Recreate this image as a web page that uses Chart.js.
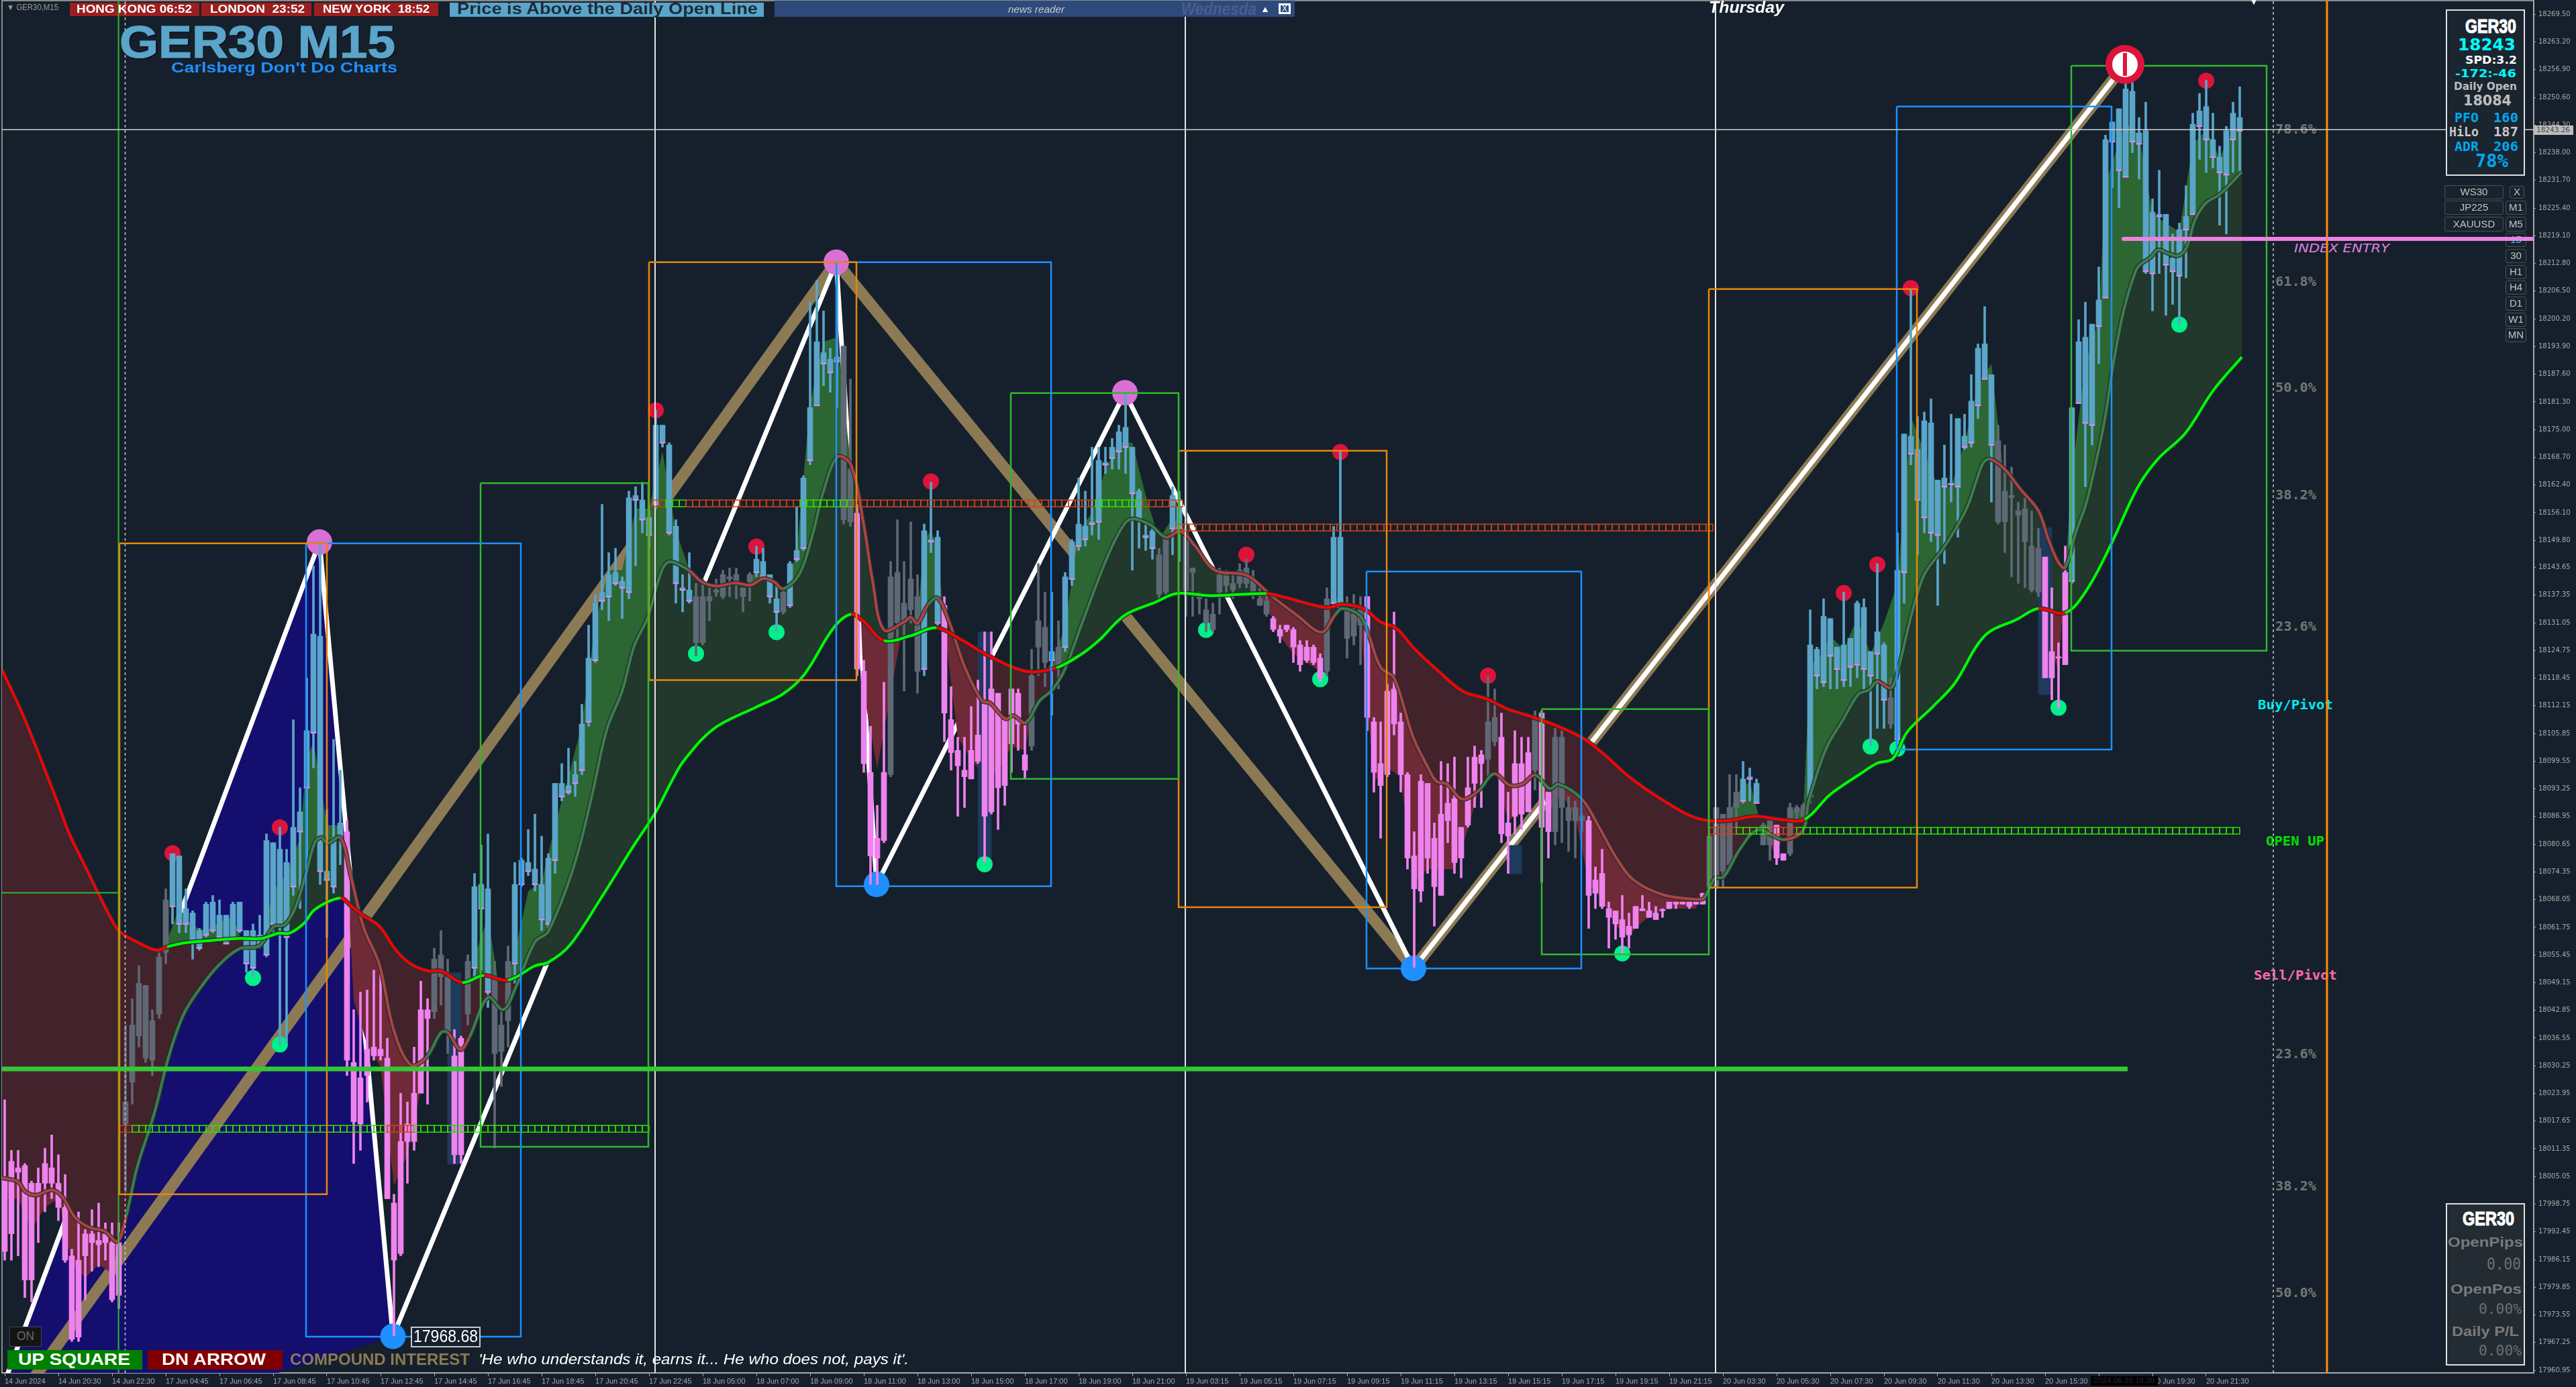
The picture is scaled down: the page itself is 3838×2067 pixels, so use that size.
<!DOCTYPE html>
<html lang="en">
<head>
<meta charset="UTF-8">
<title>GER30 M15</title>
<style>
  html, body { margin: 0; padding: 0; background: #15202c; width: 3838px; height: 2067px; overflow: hidden; }
  #wrap { position: absolute; left: 0; top: 0; width: 3838px; height: 2067px; z-index: 1; }
  .t { position: absolute; white-space: pre; transform-origin: left center; font-family: 'Liberation Sans', sans-serif; }
  .b { position: absolute; box-sizing: border-box; }
  .btn { position: absolute; box-sizing: border-box; border: 1.5px solid #4a5058; border-radius: 3px; background: #18232e;
         color: #c4c4c4; font: 15px 'Liberation Sans', sans-serif; text-align: center; }
</style>
<script src="https://cdn.jsdelivr.net/npm/chart.js"></script>
</head>
<body>
<div id="wrap"><canvas id="chart" width="3838" height="2067"></canvas></div>
<script>
// price scale of the terminal
const priceTicks = [18269.50,18263.20,18256.90,18250.60,18244.30,18238.00,18231.70,18225.40,18219.10,18212.80,
  18206.50,18200.20,18193.90,18187.60,18181.30,18175.00,18168.70,18162.40,18156.10,18149.80,
  18143.65,18137.35,18131.05,18124.75,18118.45,18112.15,18105.85,18099.55,18093.25,18086.95,
  18080.65,18074.35,18068.05,18061.75,18055.45,18049.15,18042.85,18036.55,18030.25,18023.95,
  18017.65,18011.35,18005.05,17998.75,17992.45,17986.15,17979.85,17973.55,17967.25,17960.95];
const timeLabels = ['14 Jun 2024','14 Jun 20:30','14 Jun 22:30','17 Jun 04:45','17 Jun 06:45','17 Jun 08:45','17 Jun 10:45',
  '17 Jun 12:45','17 Jun 14:45','17 Jun 16:45','17 Jun 18:45','17 Jun 20:45','17 Jun 22:45','18 Jun 05:00','18 Jun 07:00',
  '18 Jun 09:00','18 Jun 11:00','18 Jun 13:00','18 Jun 15:00','18 Jun 17:00','18 Jun 19:00','18 Jun 21:00','19 Jun 03:15',
  '19 Jun 05:15','19 Jun 07:15','19 Jun 09:15','19 Jun 11:15','19 Jun 13:15','19 Jun 15:15','19 Jun 17:15','19 Jun 19:15',
  '19 Jun 21:15','20 Jun 03:30','20 Jun 05:30','20 Jun 07:30','20 Jun 09:30','20 Jun 11:30','20 Jun 13:30','20 Jun 15:30',
  '20 Jun 17:30','20 Jun 19:30','20 Jun 21:30'];
const ticksPerLabel = 8;
const priceMin = 17960.35, priceMax = 18272.6, barMin = -0.4, barMax = 376.8;

// candles, one row per ten bars
const opens = [
18005,18008.5,18007,18007.5,18003.5,18003.5,18008,18007,18003.5,17998,
17987,17986,17992,17992,17990.5,17992,17990,17990,18017,18026.5,
18037,18032,18031.5,18042,18056,18066.5,18062.5,18062.5,18058.5,18057,
18060,18061,18059.5,18058,18059.5,18061,18053.5,18052.5,18057.5,18055.5,
18062.5,18062.5,18059.5,18071,18083.5,18093.5,18106,18074.5,18072.5,18071,
18082,18083.5,18031,18027.5,18034,18034.5,18034,18032,17999,18013,
18017,18024,18043,18043,18054.5,18055.5,18050.5,18032.5,18036.5,18054,
18052.5,18066,18047,18050,18039.5,18054,18053.5,18071.5,18074.5,18071.5,
18063.5,18062.5,18077,18091.5,18092.5,18094.5,18097.5,18108.5,18122.5,18136,
18137,18140,18139,18138,18159,18154.5,18151,18158,18172,18151.5,
18140,18138.5,18136,18137,18137,18137,18138.5,18142,18141.5,18142,
18139,18142,18142.5,18141.5,18137,18133.5,18138,18135,18145.5,18148,
18168,18180.5,18190,18188,18190.5,18194,18166,18156,18120,18097,
18082,18097,18141.5,18142.5,18135.5,18141,18137,18120.5,18149.5,18131,
18135,18109,18102,18097.5,18102,18105.5,18113,18116,18115,18109,
18116,18115,18101,18119,18131.5,18130,18122.5,18125.5,18125.5,18141,
18148.5,18150,18153.5,18154,18167,18168.5,18170,18171,18160.5,18154.5,
18150.5,18148,18146.5,18150.5,18152.5,18152.5,18151.5,18143.5,18137.5,18134,
18133,18142,18142,18140,18143,18143.5,18141,18136.5,18136,18132,
18129.5,18130.5,18129.5,18126,18125.5,18125.5,18123,18136.5,18135.5,18134.5,
18134,18133,18134.5,18137,18108.5,18099,18115.5,18116,18108.5,18096.5,
18078,18095,18094.5,18082,18087.5,18090,18091,18084.5,18093.5,18100.5,
18101,18108.5,18109.5,18105,18085.5,18099,18099,18101.5,18109,18110.5,
18092.5,18105,18105,18089,18089,18087,18086,18072.5,18074,18066,
18065.5,18063.5,18062,18066.5,18066,18065.5,18065,18065.5,18067.5,18067.5,
18067.5,18067.5,18067.5,18069.5,18082.5,18089,18087.5,18089,18092.5,18090.5,
18095.5,18090,18085,18086,18085,18078.5,18089,18089,18089.5,18091.5,
18119,18117.5,18123.5,18120.5,18118,18121,18121.5,18120.5,18119,18124,
18113.5,18114,18104.5,18142.5,18169.5,18159,18155,18151.5,18151,18162,
18162.5,18162,18171,18172,18180.5,18186.5,18171.5,18172.5,18161,18160,
18156.5,18157,18148.5,18148,18146,18124.5,18123,18142.5,18140.5,18181,
18176.5,18176,18198.5,18205,18240.5,18234,18232.5,18240.5,18240,18211,
18210.5,18223.5,18212.5,18211,18210,18220.5,18224,18244,18241,18237,
18233.5,18233,18241,18243];
const highs = [
18022.5,18011,18011,18008,18004,18007,18011.5,18014.5,18010,18005.5,
17988.5,17997,17993,17997.5,17999,17994.5,17994.5,17994.5,18039.5,18045.5,
18053,18048.5,18043,18056,18070.5,18078.5,18078,18070.5,18065.5,18061.5,
18067.5,18069,18068,18064.5,18067.5,18067.5,18061,18062.5,18064.5,18083,
18081,18084.5,18079.5,18109,18093.5,18118.5,18144,18149,18088.5,18104.5,
18097.5,18086,18043,18047,18047.5,18052,18051,18036.5,18001,18024,
18022,18034.5,18049.5,18045.5,18057,18061,18054.5,18038.5,18037,18055.5,
18074,18080.5,18083,18054,18043,18057.5,18076.5,18077.5,18084,18087.5,
18082.5,18078.5,18094.5,18099,18102.5,18099.5,18112.5,18130.5,18137.5,18158,
18147,18148,18141.5,18161,18162,18163,18156.5,18179.5,18176,18172,
18154.5,18142,18147,18140,18141,18139,18141,18143,18143.5,18143.5,
18139,18142.5,18148.5,18148,18142,18140,18139,18145,18157.5,18164.5,
18204,18209,18202,18193.5,18212,18194,18186.5,18158,18122.5,18107.5,
18089.5,18117.5,18145,18154.5,18145,18154,18142,18153.5,18163,18152,
18137,18116.5,18105,18105,18112,18118,18129,18129,18115,18109.5,
18116,18116,18108.5,18125,18144.5,18138,18138,18131.5,18142.5,18150,
18164,18161,18171,18171,18171,18173,18176,18183.5,18171,18161.5,
18154,18153,18148,18150.5,18162,18161,18170,18143.5,18138,18136.5,
18135.5,18143.5,18143,18142.5,18144.5,18145.5,18143,18139,18137.5,18132.5,
18130.5,18130.5,18130,18127,18127,18126,18124,18139,18153,18170,
18137,18137.5,18137,18137,18109.5,18108.5,18117,18133.5,18110.5,18097,
18083.5,18096.5,18094.5,18085.5,18099.5,18099,18100.5,18084.5,18100.5,18103,
18102,18119,18116,18110.5,18092.5,18106.5,18105,18105,18111,18111,
18092.5,18107,18106.5,18091.5,18090.5,18087.5,18087,18075.5,18079.5,18067.5,
18065.5,18069,18065,18066.5,18069,18067.5,18066.5,18066,18067.5,18067.5,
18067.5,18067.5,18067.5,18069.5,18083,18089,18087.5,18096.5,18096.5,18099.5,
18098,18095.5,18085.5,18086,18085,18078.5,18090,18089.5,18090,18134,
18125.5,18136.5,18132,18125.5,18138,18127.5,18136,18136.5,18124.5,18144.5,
18126.5,18118.5,18151.5,18174,18207,18178,18179,18182,18163.5,18171.5,
18178.5,18177.5,18178.5,18187.5,18194.5,18203,18187.5,18176,18171.5,18166.5,
18158.5,18159.5,18156.5,18152.5,18146,18139,18126.5,18148.5,18180,18200,
18204,18199,18212,18242,18245,18248,18262,18254,18246,18249.5,
18227.5,18234,18224,18219.5,18222,18230.5,18247,18251.5,18254.5,18247,
18239.5,18244,18249.5,18253];
const lows = [
17986,17986,17987,17977.5,17976.5,17990,17997,18000,17995,17985.5,
17967.5,17967.5,17977,17983.5,17984.5,17986,17976.5,17975,18001.5,18021.5,
18034.5,18031,18028,18041,18053.5,18062.5,18060.5,18060.5,18054.5,18056.5,
18059.5,18060.5,18059,18058,18059,18060.5,18051.5,18050.5,18057,18055,
18060.5,18035,18035.5,18069,18066,18075,18098,18071.5,18059.5,18069.5,
18076,18028,18008,18011,18022,18031.5,18031.5,18000,17968.5,17987,
18003.5,18011,18024,18021.5,18041,18044,18033,18008,18008,18039.5,
18050.5,18052,18043.5,18011.5,18025.5,18034.5,18049,18071,18073.5,18070,
18061,18060.5,18074,18090.5,18092,18091.5,18096.5,18107.5,18122,18134,
18131.5,18139.5,18132,18136.5,18144,18151.5,18148,18157,18171,18151,
18135.5,18133.5,18135.5,18123.5,18126,18131.5,18137,18136.5,18137,18136.5,
18133.5,18136,18141.5,18141,18135.5,18129,18133,18134.5,18145,18147.5,
18167,18180.5,18185,18183.5,18180,18153.5,18153,18119,18097,18071.5,
18071.5,18081,18096,18127,18115.5,18131,18115,18119,18147,18130.5,
18104,18097.5,18087,18089,18095.5,18099,18076.5,18087.5,18084,18089.5,
18097,18102,18095.5,18102,18119,18116.5,18110,18116,18124.5,18139.5,
18147.5,18148.5,18151,18150,18165,18166,18166,18165,18143,18148,
18147.5,18145.5,18136,18137.5,18146.5,18145,18132.5,18132.5,18133,18129,
18129,18133,18138,18136.5,18139,18139,18136.5,18135,18132.5,18129,
18126.5,18129,18122,18120,18122,18121.5,18117.5,18119,18135,18134,
18123,18126,18121.5,18106.5,18092.5,18082,18096,18105.5,18092.5,18075,
18052.5,18067.5,18074,18062,18069,18081,18074,18073,18084.5,18089,
18089,18096,18103,18081,18074,18083,18084,18088,18093,18072,
18077.5,18080.5,18081,18079,18077.5,18083.5,18061.5,18066,18066,18057,
18059,18055.5,18057,18061.5,18065.5,18064,18063.5,18064,18066,18066,
18067,18066,18067,18067,18070.5,18070.5,18071,18075.5,18084.5,18090,
18090.5,18090,18080.5,18077,18076,18077,18078,18085.5,18086,18090,
18116,18116.5,18116,18116,18116.5,18116.5,18118.5,18116,18103,18107,
18107,18107,18104,18135.5,18167,18146.5,18151.5,18149.5,18135,18144.5,
18158.5,18150.5,18170.5,18171,18177.5,18186.5,18158.5,18153.5,18147,18141.5,
18140,18139,18138,18137,18118.5,18113.5,18111.5,18121.5,18140,18181,
18162,18171.5,18190,18205,18230,18225.5,18232.5,18238,18232,18210.5,
18202,18210.5,18201,18203.5,18199,18209.5,18224,18236.5,18233.5,18234.5,
18221.5,18219.5,18233.5,18233.5];
const closes = [
17988,17992,18006,17981.5,17981.5,18000.5,18003.5,18003.5,17998,17986,
17968,17968.5,17987,17990,17989.5,17990,17977,17978,18022,18039.5,
18049,18048.5,18040.5,18055,18068,18078.5,18078,18066,18065,18061,
18067,18067.5,18064.5,18064.5,18067,18067.5,18061,18061,18060,18081.5,
18081,18079.5,18076.5,18084.5,18088,18106.5,18128.5,18128,18074.5,18082,
18085.5,18031.5,18017.5,18017,18028,18032.5,18032.5,18000,17986,17987.5,
18013,18013,18024,18041,18042.5,18050.5,18038,18010,18010,18042,
18071,18071.5,18070.5,18033,18033.5,18040.5,18071.5,18077,18076.5,18075,
18071.5,18077.5,18094.5,18094.5,18094,18096.5,18108,18123,18135.5,18138,
18142,18142.5,18140.5,18159.5,18160,18159,18155,18176,18176,18171.5,
18153,18139,18138.5,18126.5,18126.5,18136,18138,18137,18141,18140.5,
18137,18140.5,18145.5,18145,18142,18136.5,18133.5,18144.5,18147.5,18164,
18180,18195,18192.5,18191,18191.5,18154.5,18154,18120.5,18099,18078,
18077.5,18081.5,18096.5,18131,18131.5,18134,18120,18152,18150,18150.5,
18110.5,18101.5,18098.5,18096,18095.5,18099.5,18087,18088,18093.5,18094,
18103.5,18108,18097.5,18103,18125.5,18122,18124.5,18121.5,18141.5,18149.5,
18153.5,18153,18154,18168,18167.5,18171,18174.5,18175.5,18171,18161,
18151,18152,18137.5,18138,18160,18157.5,18138,18142.5,18136.5,18131,
18129.5,18138,18139.5,18138.5,18140,18140,18137.5,18135,18133,18129.5,
18128,18129.5,18125.5,18121.5,18122.5,18122,18118.5,18120,18150.5,18150.5,
18127.5,18128,18130.5,18109.5,18097,18094,18096.5,18108,18096.5,18077.5,
18070.5,18070,18077.5,18071,18069,18086,18076.5,18077.5,18085,18094.5,
18099,18100,18104,18083,18082.5,18087,18087.5,18088,18097.5,18084.5,
18083.5,18083.5,18089,18086,18086,18086,18069,18069.5,18066.5,18064,
18062.5,18059.5,18060,18061.5,18065.5,18064,18063.5,18065.5,18066,18067,
18067,18066.5,18067,18067,18070.5,18071,18074.5,18076,18089,18095.5,
18096,18094.5,18080.5,18080.5,18077.5,18077,18078.5,18088,18087,18126,
18125,18132.5,18132,18125.5,18126,18127.5,18135.5,18134.5,18124.5,18129,
18126,18108,18143,18174,18173.5,18170.5,18177,18176.5,18163.5,18164,
18162.5,18177.5,18173.5,18181.5,18193.5,18194.5,18187.5,18154,18154,18159.5,
18155.5,18149.5,18138.5,18138,18118.5,18118.5,18123,18121.5,18180,18195,
18196,18199,18204.5,18241,18245,18248,18252.5,18252,18242.5,18243,
18224.5,18224,18224,18214,18220.5,18223.5,18244.5,18247.5,18248.5,18241,
18237,18243,18247,18246];
// candle colouring: [kind, run length]
const toneRuns = [['d',18],['n',7],['u',26],['d',13],['n',3],['d',2],['n',1],['u',3],['n',3],['u',27],['n',9],['u',4],['n',1],['u',8],
  ['n',2],['d',5],['n',5],['u',3],['d',13],['n',3],['u',1],['n',1],['u',14],['n',2],['u',2],['n',13],['d',8],['n',1],['u',2],['n',3],
  ['d',18],['n',2],['d',5],['n',1],['d',2],['n',5],['d',18],['n',5],['u',3],['n',2],['d',2],['n',3],['u',12],['n',1],['u',15],['n',7],['d',4],['u',26]];

// slow average
const slowBars = [-0.4,3,8,9.5,12.1,14.6,16.8,17.8,19.7,22.6,24.2,26.7,31.2,35,38.2,40.8,42.4,44.6,46.2,50,51.6,53.5,55.8,58.3,60.5,63.1,65,68.2,71.4,75,79,81,84.2,88.6,93.7,97,99.3,101.2,105.7,112,115.9,119.1,123.5,126.1,128,131,135,138.8,142.7,146.5,152.2,156.7,160.5,163,166.9,171.4,174.6,179.7,188,190.5,196.9,199.3,202.5,205,207.3,210.1,213.7,217.2,221,223.9,227.4,231.2,235,238.2,242,247.1,252.2,256.7,260.8,265,268.2,272,276.5,279,281.3,283.5,287.3,290.5,295,299.9,303,307,310.1,313.7,317.8,320.8,324.9,329,333.3];
const slowValues = [18120.3,18109,18089.6,18083.4,18075.2,18067.4,18061.2,18060,18058.4,18056.5,18057.3,18058.2,18058.8,18059.2,18059.2,18060.4,18060.4,18062.7,18065.8,18068.4,18066.6,18064.3,18062,18056.5,18053.4,18051.8,18051.8,18049.2,18050.8,18049.7,18053,18053.8,18057.7,18067.8,18080.3,18088,18094.8,18099.7,18107,18111.9,18114.8,18119.2,18129.9,18133,18131.3,18127,18128.1,18129.9,18127,18123.6,18120,18120.8,18124,18127,18132.8,18135.7,18137.7,18137.2,18137.7,18136.9,18134.5,18135.2,18134.2,18131.2,18129.8,18125,18119.9,18115.5,18113.6,18111.4,18109.7,18107.6,18104.9,18101.2,18096,18090.6,18086.5,18086,18087,18086.2,18086.3,18092,18096.7,18099.1,18100.1,18106.3,18112,18117.2,18128.1,18131.9,18134.3,18133.3,18138.3,18148.5,18161.9,18168.3,18174.2,18183.8,18191.5];
const slowDownRanges = [[-1,24.2],[50,68.2],[71.4,75],[126.1,131],[138.8,156.7],[188,197.8],[199.3,258],[260.8,268.2],[303,307]];

// middle average
const midBars = [-0.4,1.9,3.1,4.7,7,8.6,10.5,12.7,14.9,16.8,18.1,19.7,22.3,24.5,26.7,29.3,31.8,35,37.9,40.1,41.7,43.3,44.9,46.2,47.2,48.1,50,51.6,53.5,55.8,58,60.5,62.8,65,66,67.9,69.2,72,74.3,76.2,79,81,84.8,87.5,89.7,92,93.8,95.8,97.8,99,101.9,103.8,106,108.9,111.1,113,114.6,116,118.4,120.4,122,124.1,126.1,128,129.3,131,134.1,135,136,137.6,139,140.8,143,145.6,146.8,149.1,150.3,152.1,154.2,156.1,158,160.5,164.4,166.9,168.2,170.7,173,175.2,177.4,180.3,185.1,188.7,192.5,196.2,198.2,199.3,201.9,203.1,205,207,209.8,212.1,213.3,214.9,217.2,219.7,221.9,224.2,226.1,228,230.2,231.5,235,237.6,240.1,242.7,247.2,252.3,253.2,254.8,256.1,258.6,261.2,265,267.9,268.8,271.4,273.9,276.2,277.8,279,281,281.9,284.2,286,288.6,289.7,292.3,293.8,294.8,295.8,297.9,300.4,303,304.5,306,307,308.6,310.1,311.6,312.9,314.2,315.7,317.5,318.3,319.8,320.8,322.3,323.9,325.1,326.4,328,330,333.3];
const midValues = [18004.7,18003.9,18001.6,18000.8,18002,18000.4,17995.7,17993.4,17992.6,17990.3,17996.1,18007,18019.5,18032.7,18042.1,18048.3,18053,18056.9,18057.5,18061.9,18062.3,18066.2,18074,18081,18082.2,18080.9,18082.2,18073.2,18061.6,18053.4,18038.2,18030.4,18032.1,18037.8,18037.8,18033.9,18036.6,18045.8,18043,18048.3,18058.4,18060.8,18075.6,18091.7,18106.7,18115.5,18125.8,18132.2,18142.5,18144.9,18143,18140.4,18139.4,18140.1,18139.6,18141.1,18140.4,18138.8,18142.1,18151.3,18161,18168.8,18166.9,18153.3,18140.6,18129.4,18131.3,18132.3,18130.9,18135.2,18136.7,18130.9,18121.1,18113.3,18112.8,18109.2,18109.9,18108.3,18113.3,18115.8,18120.6,18130.9,18146.4,18153.7,18154.7,18153.3,18150.5,18151.8,18148.4,18143,18141.8,18137.2,18132.8,18128.9,18132.8,18134.3,18132.7,18128.8,18120.9,18118.5,18105.2,18098,18095,18094.3,18090.9,18093,18096.7,18094.1,18094.3,18096.4,18093.3,18094.3,18090.9,18084.4,18077.6,18072.5,18069.1,18068.1,18068.4,18072.9,18073.2,18079.7,18083.9,18081.7,18083.8,18090.6,18102.5,18109,18114.8,18115.8,18117.7,18116.2,18119.2,18133.5,18142,18147.5,18150,18157,18163.5,18167.5,18168.3,18166.1,18161.3,18156.5,18150,18144.7,18143.6,18151.7,18158.1,18167.7,18177.4,18190.2,18202,18211.1,18212.7,18214.3,18215.9,18215.1,18214.6,18216.5,18222.9,18226.6,18228.5,18233.6];
const midDownRanges = [[-1,17.5],[50,62.8],[66,68],[101.8,116],[124.1,137.6],[139,152.1],[171,197],[202,219.7],[221.9,228],[235,253.2],[263,265.5],[279,281],[295.8,307]];

// fast average, only seen as the edge of the bright band
const fastBars = [-0.4,2,4,6,8,10,12,14,16,18,20,22,24,26,28,30,32,34,36,38,40,42,44,45,46,47,48,50,51,52,54,56,58,60,62,64,66,68,70,72,74,76,78,80,82,84,86,88,90,92,94,96,98,100,102,104,106,108,110,112,114,116,118,120,122,124,126,127,128,130,132,134,136,137,138,139,140,142,144,146,148,150,152,154,156,158,160,162,164,166,168,170,172,174,176,178,180,182,184,186,188,190,192,194,196,198,199,200,202,204,206,208,210,212,214,216,218,220,222,224,226,228,230,232,234,236,238,240,242,244,246,248,250,252,254,256,258,260,262,264,266,268,269,270,272,274,276,278,280,282,284,286,288,290,292,294,296,298,300,302,304,306,308,310,312,313,316,318,320,322,324,326,328,330,332,333.3];
const fastValues = [18000,18000,17993,17998,18000,17985,17982,17985,17983,17998,18020,18035,18058,18066,18062,18061,18063,18064,18056,18057,18070,18074,18082,18100,18104,18095,18085,18085,18075,18045,18035,18030,18003,18010,18025,18040,18042,18030,18055,18064,18045,18056,18070,18072,18085,18096,18108,18131,18143,18143,18157,18157,18170,18152,18143,18137,18138,18140,18139,18143,18140,18137,18147,18181,18195,18196,18168,18155,18115,18098,18115,18132,18132,18150,18152,18148,18130,18105,18100,18096,18097,18103,18102,18118,18122,18130,18152,18156,18166,18172,18172,18160,18150,18155,18152,18143,18138,18140,18141,18138,18135,18128,18124,18122,18120,18133,18140,18132,18131,18095,18098,18096,18072,18075,18075,18075,18084,18095,18098,18086,18088,18098,18088,18092,18087,18072,18068,18062,18060,18063,18065,18066,18066,18066,18076,18083,18092,18095,18083,18078,18088,18089,18122,18122,18128,18125,18132,18124,18131,18140,18178,18170,18162,18162,18172,18185,18190,18162,18156,18148,18130,18120,18165,18190,18200,18231,18245,18242,18224,18222,18220,18240,18243,18237,18243,18243];

// swing structure
const tanBars = [1.3,123.9,209.9,315.9];
const tanPrices = [17952.7,18213.1,18052.4,18258.1];
const whiteBars = [-5,46.9,57.85,123.9,129.9,166.9,209.9,315.9];
const whitePrices = [17938,18149.4,17968.68,18213.1,18071.5,18183.4,18052.4,18258.1];
const wedgeBars = [-5,46.9,57.85];
const wedgePrices = [17938,18149.4,17968.68];
const swingHighBars = [46.9,123.9,166.9];
const swingHighPrices = [18149.4,18213.1,18183.4];
const swingLowBars = [57.85,129.9,209.9];
const swingLowPrices = [17968.68,18071.5,18052.4];
const sellDotBars = [25,41,97,112,138,185,199,221,274,279,284,328];
const sellDotPrices = [18078.6,18084.5,18179.4,18148.4,18163.2,18146.5,18169.9,18119,18137.8,18144.3,18207.2,18254.4];
const buyDotBars = [37,41,103,115,146,179,196,241,278,282,306,324];
const buyDotPrices = [18050.2,18035.1,18124,18128.9,18076.1,18129.4,18118.2,18055.8,18102.9,18102.4,18111.7,18198.9];
const arrowBar = 315.9, arrowPrice = 18258.1;

// boxes
const boxLeft =   [17.1,44.9,70.9,96,123.9,149.9,174.9,202.9,229,253.9,281.9,307.9];
const boxRight =  [48,76.9,95.9,126.9,155.9,174.9,205.9,234.9,253.9,284.9,313.9,337];
const boxTop =    [18149.1,18149.1,18162.8,18213.1,18213.1,18183.3,18170.2,18142.7,18111.4,18207,18248.5,18257.8];
const boxBottom = [18001,17968.6,18011.8,18118,18071.1,18095.5,18066.3,18052.4,18055.6,18070.8,18102.2,18124.7];
const boxKinds =  ['o','b','g','o','b','g','o','b','g','o','b','g'];
const shadeBars = [67,146,225,304];
const shadeTops = [18051.4,18128.9,18080.4,18152.7];
const shadeBottoms = [18007.8,18076.8,18073.9,18114.7];

// stepped levels: from bar, to bar, price, and where they turn red
const ladderFrom = [17.5,97,175,254.5];
const ladderTo = [96.4,175,254,333.4];
const ladderPrices = [18015.9,18158.2,18152.7,18083.7];
const ladderRed = [[[17,18.6],[57.5,60.6]],[[97,99],[102,119],[126.5,163],[169.5,176]],[[175,255]],[[254,257.8],[263,266.7]]];

const dayBars = [96.9,175.9,254.9];
const lastPrice = 18243.26;
const supportPrice = 18029.5, supportEnd = 316.3;
const entryPrice = 18218.4, entryStart = 315.7;
const leftGreenBar = 16.96, leftGreenPrice = 18069.6;
const dashBars = [17.95,338];
const sessionEndBar = 346;

const COL = { bg:'#15202c', up:'#5aa5c9', down:'#ee82ee', flat:'#5f6975', navy:'#140f6e', tan:'#8c7a55',
  darkG:'#22382c', darkR:'#42222b', brightG:'#2c6633', brightR:'#6e2a36', o:'#e8850c', b:'#1e90ff', g:'#30b82e' };
const SMOOTH = 0.35;

function pts(xs, ys) { return xs.map((x, i) => ({ x: x, y: ys[i] })); }
function inRanges(ranges, v) { return ranges.some(r => v >= r[0] && v < r[1]); }

const tones = [];
toneRuns.forEach(r => { for (let i = 0; i < r[1]; i++) tones.push(r[0]); });
const toneColor = t => t === 'u' ? COL.up : t === 'd' ? COL.down : COL.flat;
const barColors = tones.map(toneColor);
const barIdx = opens.map((_, i) => i);

const datasets = [];
function lineDs(data, extra) {
  const ds = Object.assign({ type: 'line', data: data, pointRadius: 0, borderWidth: 2, fill: false, tension: 0 }, extra);
  datasets.push(ds);
  return datasets.length - 1;
}
function dotsDs(data, color, radius, order, style) {
  lineDs(data, { showLine: false, pointRadius: radius, pointBackgroundColor: color, pointBorderColor: color, pointBorderWidth: 0, pointStyle: style || 'circle', order: order });
}

// back to front: higher order is drawn first
lineDs(pts(wedgeBars, wedgePrices), { borderWidth: 0, fill: 'shape', backgroundColor: COL.navy, order: 100 });
lineDs(pts(tanBars, tanPrices), { borderColor: COL.tan, borderWidth: 17, order: 90 });
lineDs(pts(whiteBars, whitePrices), { borderColor: '#ffffff', borderWidth: 7, order: 85 });

// bands between the averages
const slowFill = lineDs(pts(slowBars, slowValues), { borderWidth: 0, order: 79, tension: SMOOTH });
const midFill = lineDs(pts(midBars, midValues), { borderWidth: 0, order: 75, tension: SMOOTH, fill: { target: slowFill, above: COL.darkG, below: COL.darkR } });
lineDs(pts(fastBars, fastValues), { borderWidth: 0, order: 80, fill: { target: midFill, above: COL.brightG, below: COL.brightR } });

// shaded zones and dots behind the candles
datasets.push({ type: 'bar', stack: 'c', order: 60, barThickness: 20, backgroundColor: '#1e3a5c', data: shadeBars.map((b, i) => ({ x: b, y: [shadeBottoms[i], shadeTops[i]] })) });
dotsDs(pts(sellDotBars, sellDotPrices), '#dc143c', 12, 56);
dotsDs(pts(buyDotBars, buyDotPrices), '#00f08a', 12, 56);
dotsDs(pts(swingHighBars, swingHighPrices), '#da70d6', 19, 55);
dotsDs(pts(swingLowBars, swingLowPrices), '#1e90ff', 19, 55);

// candles
datasets.push({ type: 'bar', stack: 'c', order: 52, barThickness: 3, backgroundColor: barColors, data: barIdx.map(i => ({ x: i, y: [lows[i], highs[i]] })) });
datasets.push({ type: 'bar', stack: 'c', order: 51, barThickness: 8, minBarLength: 2, backgroundColor: barColors,
  data: barIdx.map(i => ({ x: i, y: [Math.min(opens[i], closes[i]), Math.max(opens[i], closes[i])] })) });
datasets.push({ type: 'bar', stack: 'c', order: 50, barThickness: 8, minBarLength: 1.5, backgroundColor: COL.down,
  data: barIdx.filter(i => tones[i] === 'u').map(i => ({ x: i, y: [opens[i] - 0.1, opens[i]] })) });

// average lines on top of the candles
lineDs(pts(midBars, midValues), { borderColor: 'rgba(30,48,52,0.9)', borderWidth: 7, order: 22, tension: SMOOTH });
lineDs(pts(midBars, midValues), { borderWidth: 4, order: 21, tension: SMOOTH, borderColor: '#3f7d48',
  segment: { borderColor: c => inRanges(midDownRanges, c.p0.parsed.x) ? '#b2413f' : '#3f7d48' } });
lineDs(pts(slowBars, slowValues), { borderColor: 'rgba(30,48,52,0.9)', borderWidth: 7, order: 20, tension: SMOOTH });
lineDs(pts(slowBars, slowValues), { borderWidth: 4, order: 19, tension: SMOOTH, borderColor: '#00ff00',
  segment: { borderColor: c => inRanges(slowDownRanges, c.p0.parsed.x) ? '#ff0000' : '#00ff00' } });

// vertical markers
const vert = b => [{ x: b, y: priceMin }, { x: b, y: priceMax }];
dayBars.forEach(b => lineDs(vert(b), { borderColor: '#e4e4e4', borderWidth: 2, order: 15 }));
dashBars.forEach(b => lineDs(vert(b), { borderColor: '#c8c8c8', borderWidth: 1.5, borderDash: [4, 4], order: 15 }));
lineDs(vert(leftGreenBar), { borderColor: COL.g, borderWidth: 2, order: 14 });
lineDs([{ x: barMin, y: leftGreenPrice }, { x: leftGreenBar, y: leftGreenPrice }], { borderColor: COL.g, borderWidth: 2, order: 14 });
lineDs(vert(sessionEndBar), { borderColor: '#ff8c00', borderWidth: 3, order: 14 });

// stepped level ladders
ladderPrices.forEach((p, l) => {
  const data = [];
  for (let b = ladderFrom[l]; b <= ladderTo[l]; b += 1) data.push({ x: b, y: p });
  lineDs(data, { showLine: false, pointStyle: 'rect', pointRadius: 7, pointBorderWidth: 1.5, pointBackgroundColor: 'transparent',
    pointBorderColor: data.map(d => inRanges(ladderRed[l], d.x) ? '#d04216' : '#2ee000'), order: 13 });
});

// boxes
boxLeft.forEach((l, i) => {
  const r = boxRight[i], t = boxTop[i], u = boxBottom[i];
  lineDs([{ x: l, y: t }, { x: r, y: t }, { x: r, y: u }, { x: l, y: u }, { x: l, y: t }], { borderColor: COL[boxKinds[i]], borderWidth: 2.5, order: 12 });
});

// horizontals
lineDs([{ x: barMin, y: lastPrice }, { x: barMax, y: lastPrice }], { borderColor: '#cfcfcf', borderWidth: 1.5, order: 9 });
lineDs([{ x: barMin, y: supportPrice }, { x: supportEnd, y: supportPrice }], { borderColor: '#36c636', borderWidth: 7, order: 8 });
lineDs([{ x: entryStart, y: entryPrice }, { x: barMax, y: entryPrice }], { borderColor: '#f080e0', borderWidth: 6, borderCapStyle: 'round', order: 8 });

// arrow badge at the last swing
const arrowPt = [{ x: arrowBar, y: arrowPrice }];
dotsDs(arrowPt, '#dc143c', 29, 7);
dotsDs(arrowPt, '#ffffff', 19, 6);
lineDs(arrowPt, { showLine: false, pointStyle: 'line', rotation: 90, pointRadius: 17, pointBorderColor: '#dc143c', pointBorderWidth: 6, order: 5 });

const noPad = s => { s.paddingLeft = 0; s.paddingRight = 0; s.paddingTop = 0; s.paddingBottom = 0; };

new Chart(document.getElementById('chart'), {
  type: 'line',
  data: { datasets: datasets },
  options: {
    responsive: false, animation: false, devicePixelRatio: 1,
    layout: { autoPadding: false, padding: { left: 3, top: 1, right: 0, bottom: 0 } },
    plugins: { legend: { display: false }, tooltip: { enabled: false } },
    events: [],
    scales: {
      x: {
        type: 'linear', min: barMin, max: barMax, offset: false,
        grid: { offset: false, drawOnChartArea: false, tickLength: 5, color: '#a8a8a8' },
        border: { display: true, color: '#a8a8a8', width: 2 },
        afterBuildTicks: s => { s.ticks = timeLabels.map((_, k) => ({ value: k * ticksPerLabel })); },
        afterFit: s => { s.height = 21; noPad(s); },
        ticks: { autoSkip: false, maxRotation: 0, align: 'start', padding: 1, color: '#a9a9a9',
          font: { family: "'Liberation Sans'", size: 11 }, callback: (v, i) => timeLabels[i] }
      },
      y: {
        type: 'linear', position: 'right', min: priceMin, max: priceMax, stacked: false,
        grid: { drawOnChartArea: false, tickLength: 3, color: '#a8a8a8' },
        border: { display: true, color: '#a8a8a8', width: 2 },
        afterBuildTicks: s => { s.ticks = priceTicks.map(v => ({ value: v })); },
        afterFit: s => { s.width = 63; noPad(s); },
        ticks: { autoSkip: false, padding: 4, color: '#a9a9a9', font: { family: "'DejaVu Sans'", size: 10 }, callback: v => v.toFixed(2) }
      }
    }
  }
});

// terminal overlays, real text over / under the transparent canvas
function addBox(x0, y0, x1, y1, css, under) {
  const el = document.createElement('div');
  el.className = 'b';
  el.style.cssText = `left:${x0}px;top:${y0}px;width:${x1 - x0}px;height:${y1 - y0}px;z-index:${under ? 0 : 2};${css}`;
  document.body.appendChild(el);
}
function addText(str, x0, x1, cy, size, css, under) {
  const el = document.createElement('div');
  el.className = 't';
  el.textContent = str;
  el.style.cssText = `left:${x0}px;top:${cy - size * 0.6}px;font-size:${size}px;line-height:${size * 1.2}px;z-index:${under ? 0 : 2};${css}`;
  document.body.appendChild(el);
  const w = el.getBoundingClientRect().width;
  el.style.transform = `scaleX(${(x1 - x0) / w})`;
}
function addBtn(str, x0, y0, x1, y1, under, color) {
  const el = document.createElement('div');
  el.className = 'btn';
  el.textContent = str;
  el.style.cssText = `left:${x0}px;top:${y0}px;width:${x1 - x0}px;height:${y1 - y0}px;line-height:${y1 - y0 - 3}px;z-index:${under ? 0 : 2};${color ? 'color:' + color : ''}`;
  document.body.appendChild(el);
}

const boldW = 'font-weight:bold;color:#fff;';
const heavy = '-webkit-text-stroke:1.2px currentColor;';
addText('▼ GER30,M15', 10, 87, 11, 12, 'color:#9a9a9a;');
addBox(104, 4, 297, 24, 'background:#9b1f1f;', true);
addBox(300, 4, 464, 24, 'background:#9b1f1f;', true);
addBox(468, 4, 653, 24, 'background:#9b1f1f;', true);
addText('HONG KONG 06:52', 114, 286, 14, 17, boldW);
addText('LONDON  23:52', 313, 454, 14, 17, boldW);
addText('NEW YORK  18:52', 481, 640, 14, 17, boldW);
addBox(670, 4, 1138, 25, 'background:#5aa5c9;');
addText('Price is Above the Daily Open Line', 681, 1129, 14, 23, 'font-weight:bold;color:#1c2b3a;');
addBox(1154, 1, 1929, 25, 'background:#2e4a7c;');
addText('news reader', 1502, 1586, 14, 15, 'font-style:italic;color:#c8c8c8;');
addText('Wednesda', 1760, 1872, 14, 26, 'font-style:italic;font-weight:bold;color:#46608f;');
addText('▲', 1878, 1892, 14, 13, 'color:#fff;');
addBox(1905, 5, 1923, 21, 'border:3px solid #fff;background:#2e4a7c;');
addText('X', 1910, 1918, 13, 13, 'color:#fff;');
addText('Thursday', 2546, 2658, 12, 23, 'font-style:italic;font-weight:bold;color:#fff;');
addText('▼', 3352, 3364, 3, 12, 'color:#fff;');

addText('GER30 M15', 178, 589, 63, 68, heavy + 'font-weight:bold;color:#5aa5c9;text-shadow:2px 2px 1px #0a1018;');
addText("Carlsberg Don't Do Charts", 255, 592, 101, 22, 'font-weight:bold;color:#1e90ff;');

// top info panel
const dj = "font-family:'DejaVu Sans';font-weight:bold;";
const mo = "font-family:'DejaVu Sans Mono';font-weight:bold;";
addBox(3644, 14, 3762, 262, 'background:#1a2530;border:2px solid #e0e0e0;');
addText('GER30', 3673, 3749, 39, 30, heavy + 'font-weight:bold;color:#fff;');
addText('18243', 3662, 3748, 67, 24, dj + 'color:#00ffff;');
addText('SPD:3.2', 3673, 3750, 90, 16, dj + 'color:#fff;');
addText('-172:-46', 3658, 3749, 110, 16, dj + 'color:#00ffff;');
addText('Daily Open', 3656, 3750, 129, 15, dj + 'color:#bdbdbd;');
addText('18084', 3670, 3742, 151, 21, dj + 'color:#bdbdbd;');
addText('PFO', 3657, 3693, 175, 19, mo + 'color:#00a8f0;');
addText('160', 3715, 3752, 175, 19, mo + 'color:#00a8f0;');
addText('HiLo', 3649, 3693, 196, 19, mo + 'color:#c8c8c8;');
addText('187', 3715, 3752, 196, 19, mo + 'color:#c8c8c8;');
addText('ADR', 3657, 3693, 218, 19, mo + 'color:#00a8f0;');
addText('206', 3715, 3752, 218, 19, mo + 'color:#00a8f0;');
addText('78%', 3688, 3737, 241, 26, mo + 'color:#00a8f0;');

// symbol and period buttons
addBtn('WS30', 3642, 276, 3730, 297);
addBtn('JP225', 3642, 299, 3730, 320);
addBtn('XAUUSD', 3642, 323, 3730, 345);
addBtn('X', 3739, 277, 3761, 296);
addBtn('M1', 3733, 299, 3764, 320);
addBtn('M5', 3733, 323, 3764, 345);
addBtn('15', 3733, 347, 3764, 368, true, '#00e0e0');
addBtn('30', 3733, 371, 3764, 392);
addBtn('H1', 3733, 395, 3764, 416);
addBtn('H4', 3733, 418, 3764, 439);
addBtn('D1', 3733, 442, 3764, 463);
addBtn('W1', 3733, 466, 3764, 487);
addBtn('MN', 3733, 489, 3764, 510);

// bottom right panel
addBox(3644, 1793, 3762, 2035, 'background:#232b33;border:2px solid #e0e0e0;');
addText('GER30', 3669, 3746, 1816, 30, heavy + 'font-weight:bold;color:#fff;');
addText('OpenPips', 3647, 3759, 1851, 21, 'font-weight:bold;color:#7a7a7a;');
addText('0.00', 3705, 3756, 1884, 24, "font-family:'DejaVu Sans Mono';color:#6e6e6e;");
addText('OpenPos', 3651, 3757, 1921, 21, 'font-weight:bold;color:#7a7a7a;');
addText('0.00%', 3693, 3757, 1951, 22, "font-family:'DejaVu Sans Mono';color:#6e6e6e;");
addText('Daily P/L', 3653, 3753, 1984, 21, 'font-weight:bold;color:#7a7a7a;');
addText('0.00%', 3693, 3757, 2013, 22, "font-family:'DejaVu Sans Mono';color:#6e6e6e;");

// level captions on the chart
const pctCss = "font-family:'DejaVu Sans Mono';font-weight:bold;color:#757575;";
[['78.6%', 192], ['61.8%', 419], ['50.0%', 577], ['38.2%', 737], ['23.6%', 933], ['23.6%', 1570], ['38.2%', 1767], ['50.0%', 1926]]
  .forEach(p => addText(p[0], 3390, 3451, p[1], 20, pctCss, true));
addText('Buy/Pivot', 3364, 3476, 1050, 20, "font-family:'DejaVu Sans Mono';font-weight:bold;color:#00e8f0;", true);
addText('OPEN UP', 3376, 3463, 1253, 20, "font-family:'DejaVu Sans Mono';font-weight:bold;color:#00e000;", true);
addText('Sell/Pivot', 3358, 3482, 1453, 20, "font-family:'DejaVu Sans Mono';font-weight:bold;color:#ff69b4;", true);
addText('INDEX ENTRY', 3418, 3560, 370, 18, "font-family:'DejaVu Sans';font-style:italic;color:#e27fe0;", true);

// price flag and time flag
addBox(3776, 187, 3834, 201, 'background:#bdbdbd;');
addText('18243.26', 3779, 3829, 194, 10, "font-family:'DejaVu Sans';color:#4a4a4a;");
addBox(3115, 2051, 3215, 2065, 'background:#000;');
addText('2024.06.20 18:30', 3120, 3210, 2058, 11, 'color:#2a2a2a;');

// bottom left strip
addBox(14, 1977, 62, 2007, 'background:#141414;border:1px solid #444;');
addText('ON', 25, 51, 1992, 18, 'color:#6a6a6a;');
addBox(11, 2012, 212, 2041, 'background:#008000;');
addText('UP SQUARE', 27, 194, 2026, 24, boldW);
addBox(220, 2012, 421, 2041, 'background:#800000;');
addText('DN ARROW', 241, 396, 2026, 24, boldW);
addText('COMPOUND INTEREST', 432, 700, 2026, 24, 'font-weight:bold;color:#8c7a55;');
addText("'He who understands it, earns it... He who does not, pays it'.", 713, 1354, 2026, 22, 'font-style:italic;color:#fff;');
addBox(612, 1977, 716, 2008, 'background:#15202c;border:2px solid #c8c8c8;');
addText('17968.68', 616, 712, 1992, 26, 'color:#fff;');

// frame on the left and top of the chart window
addBox(2, 0, 3775, 2, 'background:#8a8a8a;', true);
addBox(2, 0, 4, 2046, 'background:#8a8a8a;', true);
</script>
</body>
</html>
